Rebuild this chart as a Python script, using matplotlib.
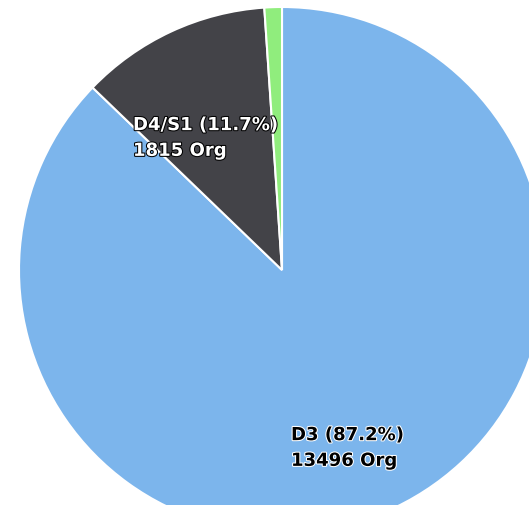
import matplotlib
matplotlib.use("Agg")
import matplotlib.pyplot as plt
import matplotlib.patheffects as pe

# slices, clockwise from 12 o'clock
names = ["D3", "D4/S1", "Other"]
counts = [13496, 1815, 166]
percents = [87.2, 11.7, 1.1]
colors = ["#7cb5ec", "#434348", "#90ed7d"]

W, H = 529, 505
fig = plt.figure(figsize=(W / 100, H / 100), dpi=100)
ax = fig.add_axes([0, 0, 1, 1])

# pixel-like coordinates, y up
cx, cy, r = 282, H - 270, 263
ax.pie(counts, colors=colors, startangle=90, counterclock=False,
       center=(cx, cy), radius=r,
       wedgeprops=dict(edgecolor="white", linewidth=1.5))
ax.set_xlim(0, W)
ax.set_ylim(0, H)
ax.set_aspect("equal")
ax.set_axis_off()

# data labels (white on dark slice, black on light)
label_pos = {"D3": (291, H - 448), "D4/S1": (133, H - 138)}
for name, n, p in zip(names, counts, percents):
    if name not in label_pos:
        continue
    x, y = label_pos[name]
    dark = name == "D4/S1"
    fc = "white" if dark else "black"
    oc = "black" if dark else "white"
    ax.text(x, y, f"{name} ({p}%)\n{n} Org", fontsize=13, fontweight="bold",
            color=fc, ha="left", va="center", linespacing=1.55,
            path_effects=[pe.withStroke(linewidth=1.5, foreground=oc)])

fig.savefig("out.png", dpi=100)
